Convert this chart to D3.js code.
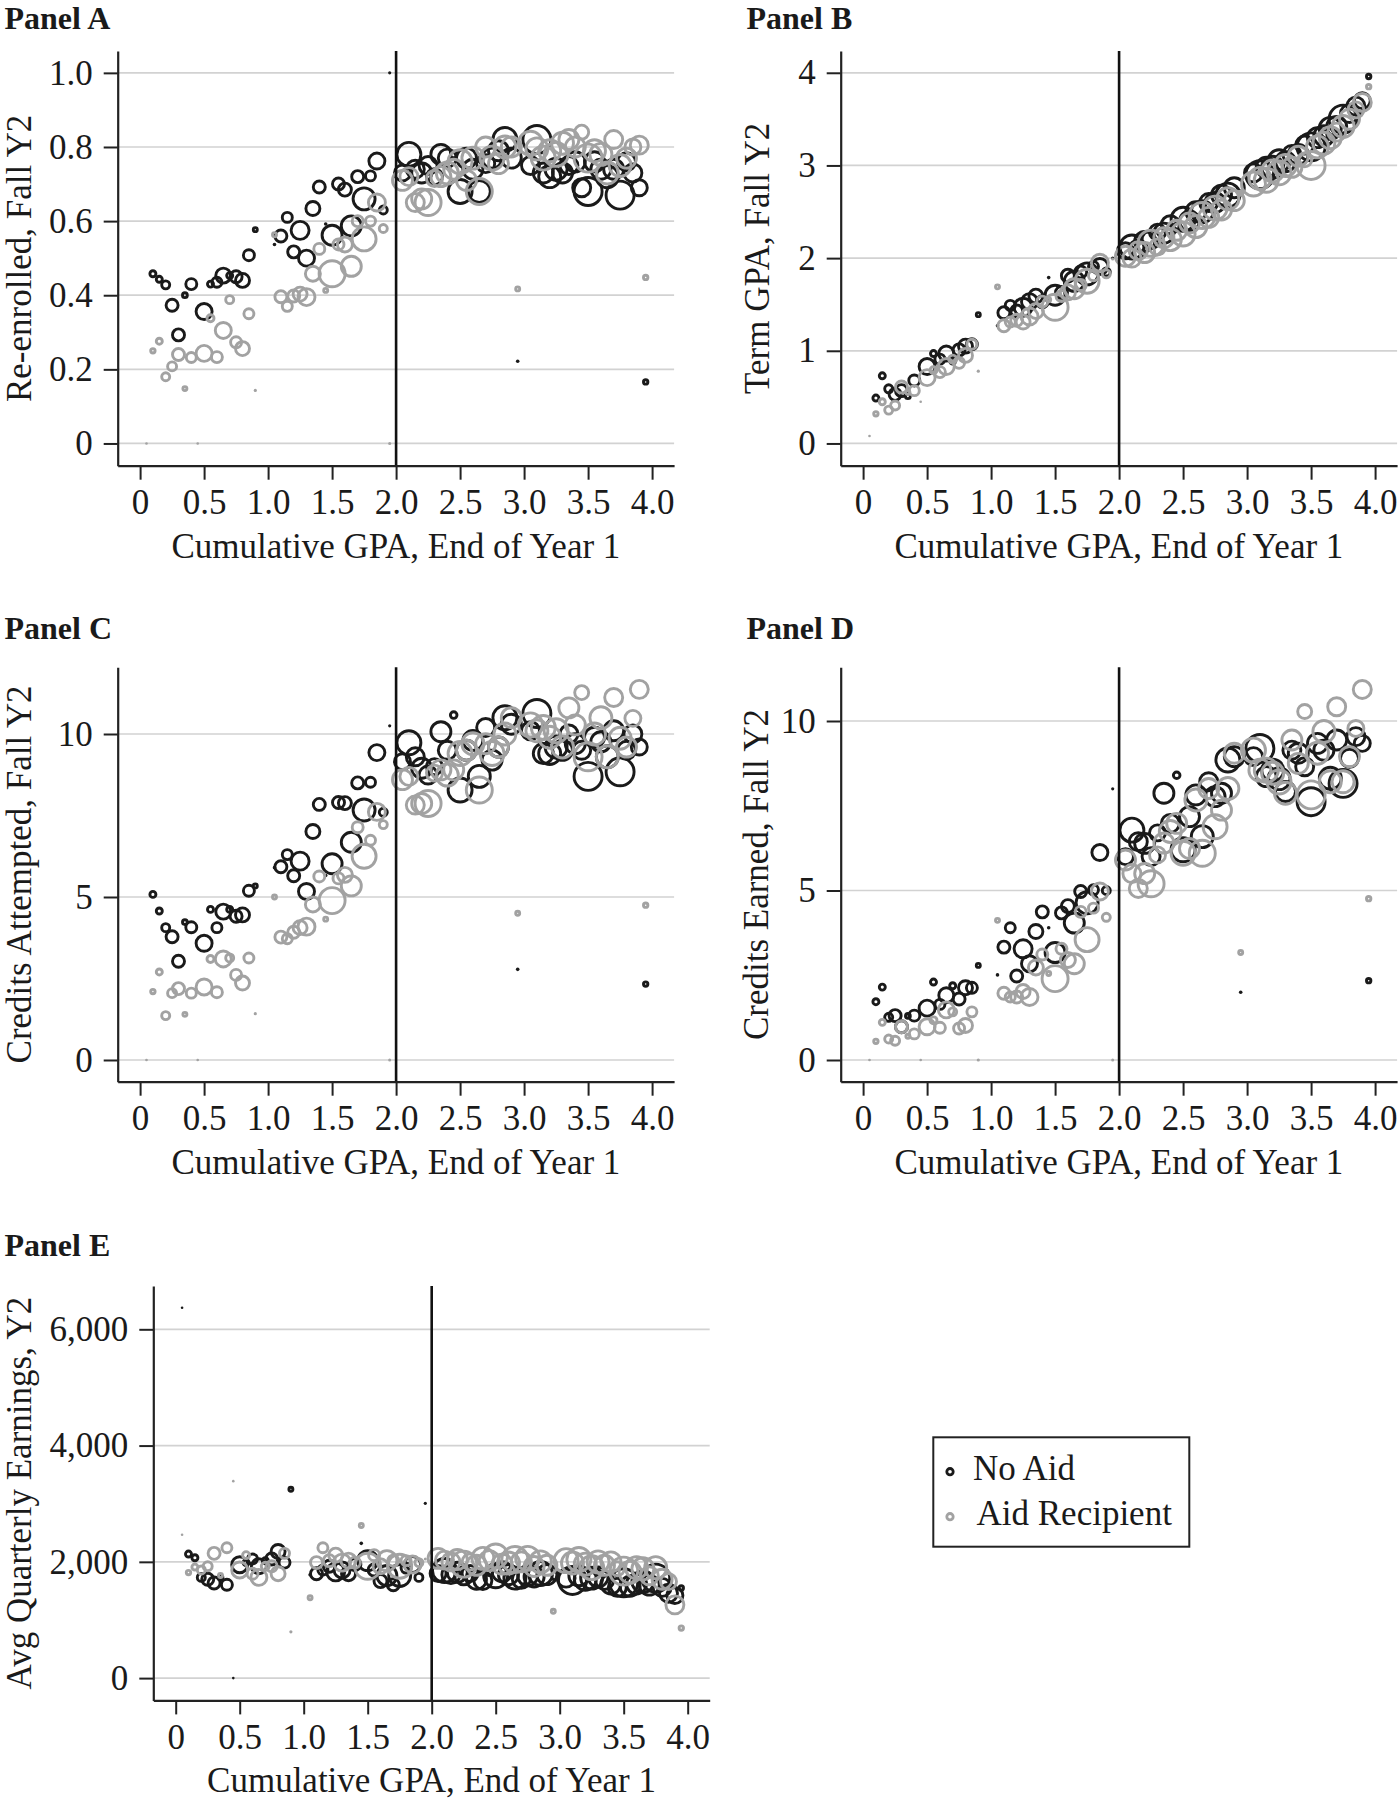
<!DOCTYPE html>
<html><head><meta charset="utf-8">
<script src="https://cdn.jsdelivr.net/npm/d3@7"></script>
<style>
body{margin:0;background:#fff}
svg{display:block}
text{font-family:"Liberation Serif","Times New Roman",Times,serif;fill:#1a1a1a}
</style>
</head><body>
<svg id="c" width="1398" height="1800"></svg>
<script>
// ---------------- DATA ----------------
const gpaBins = [0.05,0.10,0.15,0.20,0.25,0.30,0.35,0.40,0.45,0.50,0.55,0.60,0.65,0.70,0.75,0.80,0.85,0.90,
 1.05,1.10,1.15,1.20,1.25,1.30,1.35,1.40,1.45,1.50,1.55,1.60,1.65,1.70,1.75,1.80,1.85,1.90,1.95,
 2.05,2.10,2.15,2.20,2.25,2.30,2.35,2.40,2.45,2.50,2.55,2.60,2.65,2.70,2.75,2.80,2.85,2.90,2.95,
 3.05,3.10,3.15,3.20,3.25,3.30,3.35,3.40,3.45,3.50,3.55,3.60,3.65,3.70,3.75,3.80,3.85,3.90,3.95];

const xTickValues = [0,0.5,1,1.5,2,2.5,3,3.5,4];
const xTickLabels = ["0","0.5","1.0","1.5","2.0","2.5","3.0","3.5","4.0"];

// relative bin sizes (marker radius units)
const sizeNoAid = [1.3,3,3,4,6,6,2.4,5.5,1.3,8,3,5,7.5,3,6,7,5.5,2.0,
 1.8,6,5,6,9,8,7,6,1.8,10,6,6.5,10,6,11,5,8,4,1.6,
 8,12,9,10,9,8,10,9,3.3,12,10,10,11,9,10,10,12,10,1.8,
 9,14,10,11,11,10,9,10,9,14,10,10,11,10,14,9,9,8,2.2];
const sizeAid = [1.3,2.2,3,4,4.5,6,2.0,5,1.3,8,3.5,5.5,8,4,5.5,7,5,1.6,
 2.0,6,5,6,7,8.5,7.5,5.5,2.0,13,5.5,7.5,10,5.5,12,5,8.5,4,1.5,
 10,9,9,10,13,8,10,11,10,12,10,11,13,10,12,10,11,10,2.0,
 12,11,12,11,12,11,10,10,7,14,11,11,11,9,11,10,8,9,2.2];

// Panel A: Re-enrolled, Fall Y2
const reenrollTicks = [0,0.2,0.4,0.6,0.8,1.0];
const reenrollTickLabels = ["0","0.2","0.4","0.6","0.8","1.0"];
const reenrollNoAid = [null,0.458,0.443,0.428,0.373,0.293,0.40,0.43,null,0.356,0.43,0.435,0.453,0.453,0.45,0.44,0.508,0.577,
 0.537,0.56,0.61,0.517,0.575,0.50,0.634,0.692,0.592,0.562,0.70,0.685,0.587,0.72,0.66,0.722,0.762,0.63,1.0,
 0.73,0.78,0.74,0.73,0.75,0.72,0.78,0.77,0.78,0.68,0.77,0.74,0.68,0.755,0.77,0.79,0.82,0.77,0.222,
 0.75,0.82,0.73,0.72,0.74,0.73,0.75,0.76,0.69,0.68,0.76,0.74,0.72,0.74,0.67,0.76,0.73,0.69,0.166];
const reenrollAid = [0,0.25,0.276,0.18,0.208,0.24,0.148,0.232,0,0.243,0.338,0.233,0.305,0.388,0.273,0.256,0.35,0.143,
 0.563,0.396,0.37,0.398,0.403,0.395,0.458,0.525,0.413,0.458,0.537,0.537,0.478,0.60,0.552,0.60,0.65,0.58,0,
 0.71,0.72,0.65,0.66,0.65,0.715,0.72,0.73,0.74,0.76,0.71,0.77,0.68,0.80,0.77,0.755,0.80,0.80,0.417,
 0.81,0.795,0.77,0.79,0.78,0.81,0.82,0.80,0.84,0.77,0.79,0.78,0.73,0.82,0.75,0.77,0.80,0.805,0.448];

// Panel B: Term GPA, Fall Y2
const termGpaTicks = [0,1,2,3,4];
const termGpaTickLabels = ["0","1","2","3","4"];
const termGpaNoAid = [null,0.49,0.73,0.59,0.53,0.57,0.51,0.68,null,0.83,0.97,0.91,0.97,0.89,1.01,1.05,1.07,1.39,
 1.27,1.41,1.49,1.43,1.47,1.53,1.59,1.53,1.79,1.6,1.63,1.81,1.75,1.85,1.83,1.91,1.91,1.85,2.0,
 2.08,2.12,2.1,2.18,2.2,2.28,2.27,2.36,2.34,2.42,2.4,2.5,2.5,2.6,2.6,2.68,2.68,2.76,2.72,
 2.92,2.9,2.98,2.98,3.05,3.04,3.12,3.12,3.22,3.2,3.3,3.32,3.4,3.42,3.5,3.56,3.64,3.7,3.96];
const termGpaAid = [0.08,0.32,0.45,0.36,0.41,0.61,0.55,0.57,0.45,0.71,0.79,0.77,0.83,0.91,0.87,0.95,1.07,0.78,
 1.69,1.27,1.31,1.33,1.31,1.37,1.43,1.53,1.55,1.47,1.59,1.63,1.67,1.71,1.75,1.81,1.95,1.83,1.99,
 2.02,2.0,2.08,2.06,2.16,2.12,2.22,2.2,2.3,2.26,2.38,2.34,2.46,2.44,2.54,2.52,2.64,2.62,2.7,
 2.8,2.86,2.84,2.94,2.92,3.0,2.98,3.1,3.06,3.0,3.2,3.24,3.3,3.36,3.42,3.5,3.6,3.68,3.85];

// Panel C: Credits Attempted, Fall Y2
const creditsTicks = [0,5,10];
const creditsTickLabels = ["0","5","10"];
const creditsAttNoAid = [null,5.08,4.57,4.06,3.78,3.03,4.23,4.07,null,3.58,4.62,4.06,4.55,4.62,4.41,4.45,5.19,5.34,
 5.9,5.93,6.3,5.65,6.1,5.17,7.01,7.84,5.66,6.02,7.9,7.88,6.68,8.5,7.67,8.52,9.43,7.6,10.25,
 9.15,9.73,9.3,8.95,8.74,9.0,10.07,9.5,10.58,8.28,9.5,9.8,8.7,10.2,9.2,9.6,10.5,10.3,2.78,
 10.1,10.63,9.4,9.4,9.6,9.5,10.0,9.7,9.5,8.7,9.9,9.76,9.3,10.1,8.84,9.5,10.0,9.6,2.33];
const creditsAttAid = [0,2.1,2.7,1.36,2.05,2.19,1.4,2.05,0,2.24,3.1,2.08,3.1,3.13,2.61,2.36,3.13,1.42,
 5.0,3.77,3.72,3.92,4.06,4.09,4.77,5.63,4.32,4.89,5.57,5.68,5.34,7.14,6.25,6.74,7.61,7.22,0,
 8.6,8.7,7.82,7.87,7.87,8.8,8.9,8.74,8.9,9.4,9.5,9.7,8.28,9.7,9.4,9.6,10.0,10.5,4.5,
 10.28,10.1,10.2,9.9,10.1,9.6,10.8,10.28,11.27,9.3,10.0,10.5,9.3,11.12,9.87,9.6,10.48,11.37,4.75];

// Panel D: Credits Earned, Fall Y2
const creditsEarnNoAid = [null,1.72,2.15,1.26,1.31,0.98,1.3,1.31,null,1.53,2.3,1.64,1.91,2.19,1.8,2.13,2.13,2.79,
 2.51,3.33,3.9,2.48,3.28,2.84,3.79,4.37,3.9,3.17,4.34,4.54,4.04,4.97,4.64,5.02,6.12,5.0,8.0,
 6.0,6.78,6.44,6.39,6.0,6.7,7.87,6.98,8.4,6.2,7.18,7.82,6.59,8.21,7.77,7.87,8.85,8.95,2.0,
 8.95,9.19,8.36,8.55,8.3,7.92,9.14,9.05,8.65,7.62,9.34,9.14,8.31,9.44,8.16,8.9,9.54,9.34,2.34];
const creditsEarnAid = [0,0.55,1.11,0.62,0.57,0.98,0.7,0.77,0,0.98,1.17,0.95,1.48,1.42,0.93,1.02,1.42,0,
 4.12,1.97,1.86,1.86,2.02,1.86,2.73,3.11,2.55,2.4,3.28,2.95,2.84,4.37,3.55,4.48,4.97,4.21,0,
 5.9,5.5,5.06,5.5,5.2,6.05,6.4,6.74,6.98,6.1,6.24,7.67,6.1,8.01,6.88,7.37,8.01,9.05,3.17,
 9.14,8.55,8.55,8.46,8.2,7.87,9.44,8.75,10.28,7.82,9.05,9.69,8.21,10.42,8.21,8.95,9.78,10.93,4.76];

// Panel E: Avg Quarterly Earnings, Y2
const earningsTicks = [0,2000,4000,6000];
const earningsTickLabels = ["0","2,000","4,000","6,000"];
const earningsNoAid = [6370,2134,2070,1732,1700,1637,1730,1605,0,1950,1987,2050,1924,2020,2050,2178,1987,3248,
 1777,1796,1860,1924,1828,1860,1796,1955,2318,2020,1860,1669,1764,1605,1764,1892,1955,1732,3006,
 1800,1850,1780,1820,1760,1800,1700,1680,1820,1760,1830,1780,1720,1700,1760,1740,1800,1780,1700,
 1720,1680,1760,1700,1720,1740,1680,1620,1560,1640,1580,1620,1660,1600,1720,1560,1460,1420,1550];
const earningsAid = [2465,1815,1910,1860,1924,2146,1764,2242,3388,1860,2115,1796,1732,1924,1924,1796,2146,796,
 1382,1987,2242,2020,2115,1987,2020,1987,2624,1924,2115,1924,2020,2020,1924,2020,1955,1987,2050,
 2060,2030,2000,2040,1960,2000,1940,2060,2020,2100,1960,1980,2040,2000,2060,1920,2000,1940,1150,
 2020,1980,2040,1960,1900,2000,1940,2000,1880,1840,1820,1900,1880,1760,1900,1700,1660,1260,860];

const cutoff = 2.0;
const legendLabels = ["No Aid", "Aid Recipient"];
const xTitle = "Cumulative GPA, End of Year 1";

// ---------------- STYLE / LAYOUT ----------------
const FS = 35;
const BLACK = "#1a1a1a", GRAY = "#a2a2a2", GRID = "#d2d2d2";
const xDomain = [-0.175, 4.172];
const plotW = 556.4;

const panels = [
  {label:"Panel A", lx:4.5, ly:28.5, left:117.7, top:51, bottom:465.7, yDomain:[-0.06,1.059],
   ticks:reenrollTicks, tickLabels:reenrollTickLabels, title:"Re-enrolled, Fall Y2", tx:30.5,
   noAid:reenrollNoAid, aid:reenrollAid},
  {label:"Panel B", lx:746.5, ly:28.5, left:840.7, top:51, bottom:465.7, yDomain:[-0.24,4.235],
   ticks:termGpaTicks, tickLabels:termGpaTickLabels, title:"Term GPA, Fall Y2", tx:769,
   noAid:termGpaNoAid, aid:termGpaAid},
  {label:"Panel C", lx:4.5, ly:639, left:117.7, top:667.3, bottom:1081.7, yDomain:[-0.666,12.046],
   ticks:creditsTicks, tickLabels:creditsTickLabels, title:"Credits Attempted, Fall Y2", tx:30.5,
   noAid:creditsAttNoAid, aid:creditsAttAid},
  {label:"Panel D", lx:746.5, ly:639, left:840.7, top:667.3, bottom:1081.7, yDomain:[-0.64,11.584],
   ticks:creditsTicks, tickLabels:creditsTickLabels, title:"Credits Earned, Fall Y2", tx:768,
   noAid:creditsEarnNoAid, aid:creditsEarnAid},
  {label:"Panel E", lx:4.5, ly:1256, left:153.3, top:1286, bottom:1700.4, yDomain:[-383.6,6745],
   ticks:earningsTicks, tickLabels:earningsTickLabels, title:"Avg Quarterly Earnings, Y2", tx:30.5,
   noAid:earningsNoAid, aid:earningsAid}
];

const svg = d3.select("#c");
const rScale = d3.scaleLinear().domain([0, 14]).range([0, 14]);

function drawMarks(g, x, y, vals, sizes, color) {
  const data = gpaBins.map((gx, i) => ({gx, v: vals[i], s: sizes[i]})).filter(d => d.v !== null);
  g.selectAll(null).data(data).enter().append("circle")
    .attr("cx", d => x(d.gx))
    .attr("cy", d => y(d.v))
    .attr("r", d => rScale(d.s))
    .attr("fill", d => d.s < 2 ? color : "none")
    .attr("stroke", d => d.s < 2 ? "none" : color)
    .attr("stroke-width", 2.9);
}

panels.forEach(p => {
  const x = d3.scaleLinear().domain(xDomain).range([p.left, p.left + plotW]);
  const y = d3.scaleLinear().domain(p.yDomain).range([p.bottom, p.top]);
  const g = svg.append("g");

  // panel label
  g.append("text").attr("x", p.lx).attr("y", p.ly)
    .attr("font-size", 32).attr("font-weight", "bold").text(p.label);

  // gridlines
  g.selectAll(null).data(p.ticks).enter().append("line")
    .attr("x1", p.left).attr("x2", p.left + plotW)
    .attr("y1", d => y(d)).attr("y2", d => y(d))
    .attr("stroke", GRID).attr("stroke-width", 1.7);

  // markers: No Aid first, Aid on top
  drawMarks(g, x, y, p.noAid, sizeNoAid, BLACK);
  drawMarks(g, x, y, p.aid, sizeAid, GRAY);

  // cutoff line
  g.append("line").attr("x1", x(cutoff)).attr("x2", x(cutoff))
    .attr("y1", p.top).attr("y2", p.bottom)
    .attr("stroke", "#111").attr("stroke-width", 2.6);

  // axes
  const ya = g.append("g").attr("transform", `translate(${p.left},0)`)
    .call(d3.axisLeft(y).tickValues(p.ticks).tickFormat((d, i) => p.tickLabels[i])
      .tickSize(14).tickSizeOuter(0).tickPadding(11));
  const xa = g.append("g").attr("transform", `translate(0,${p.bottom})`)
    .call(d3.axisBottom(x).tickValues(xTickValues).tickFormat((d, i) => xTickLabels[i])
      .tickSize(14).tickSizeOuter(0).tickPadding(9.7));
  [ya, xa].forEach(a => {
    a.attr("font-size", FS).attr("font-family", null);
    a.select(".domain").attr("stroke", "#222").attr("stroke-width", 2.2);
    a.selectAll(".tick line").attr("stroke", "#222").attr("stroke-width", 2);
    a.selectAll(".tick text").attr("fill", "#1a1a1a");
  });

  // axis titles
  g.append("text").attr("x", p.left + plotW / 2).attr("y", p.bottom + 92)
    .attr("text-anchor", "middle").attr("font-size", FS).text(xTitle);
  g.append("text")
    .attr("transform", `translate(${p.tx},${(p.top + p.bottom) / 2}) rotate(-90)`)
    .attr("text-anchor", "middle").attr("font-size", FS).text(p.title);
});

// legend
const lg = svg.append("g");
lg.append("rect").attr("x", 933.3).attr("y", 1437.3).attr("width", 256).attr("height", 109.4)
  .attr("fill", "#fff").attr("stroke", "#222").attr("stroke-width", 2);
const legendColors = [BLACK, GRAY];
const legendRows = [{cy:1471.7, ty:1479.5, tx:973}, {cy:1516.7, ty:1525, tx:976.5}];
legendLabels.forEach((lab, i) => {
  lg.append("circle").attr("cx", 950).attr("cy", legendRows[i].cy).attr("r", 3.2)
    .attr("fill", "none").attr("stroke", legendColors[i]).attr("stroke-width", 2.8);
  lg.append("text").attr("x", legendRows[i].tx).attr("y", legendRows[i].ty)
    .attr("font-size", FS).text(lab);
});
</script>
</body></html>
